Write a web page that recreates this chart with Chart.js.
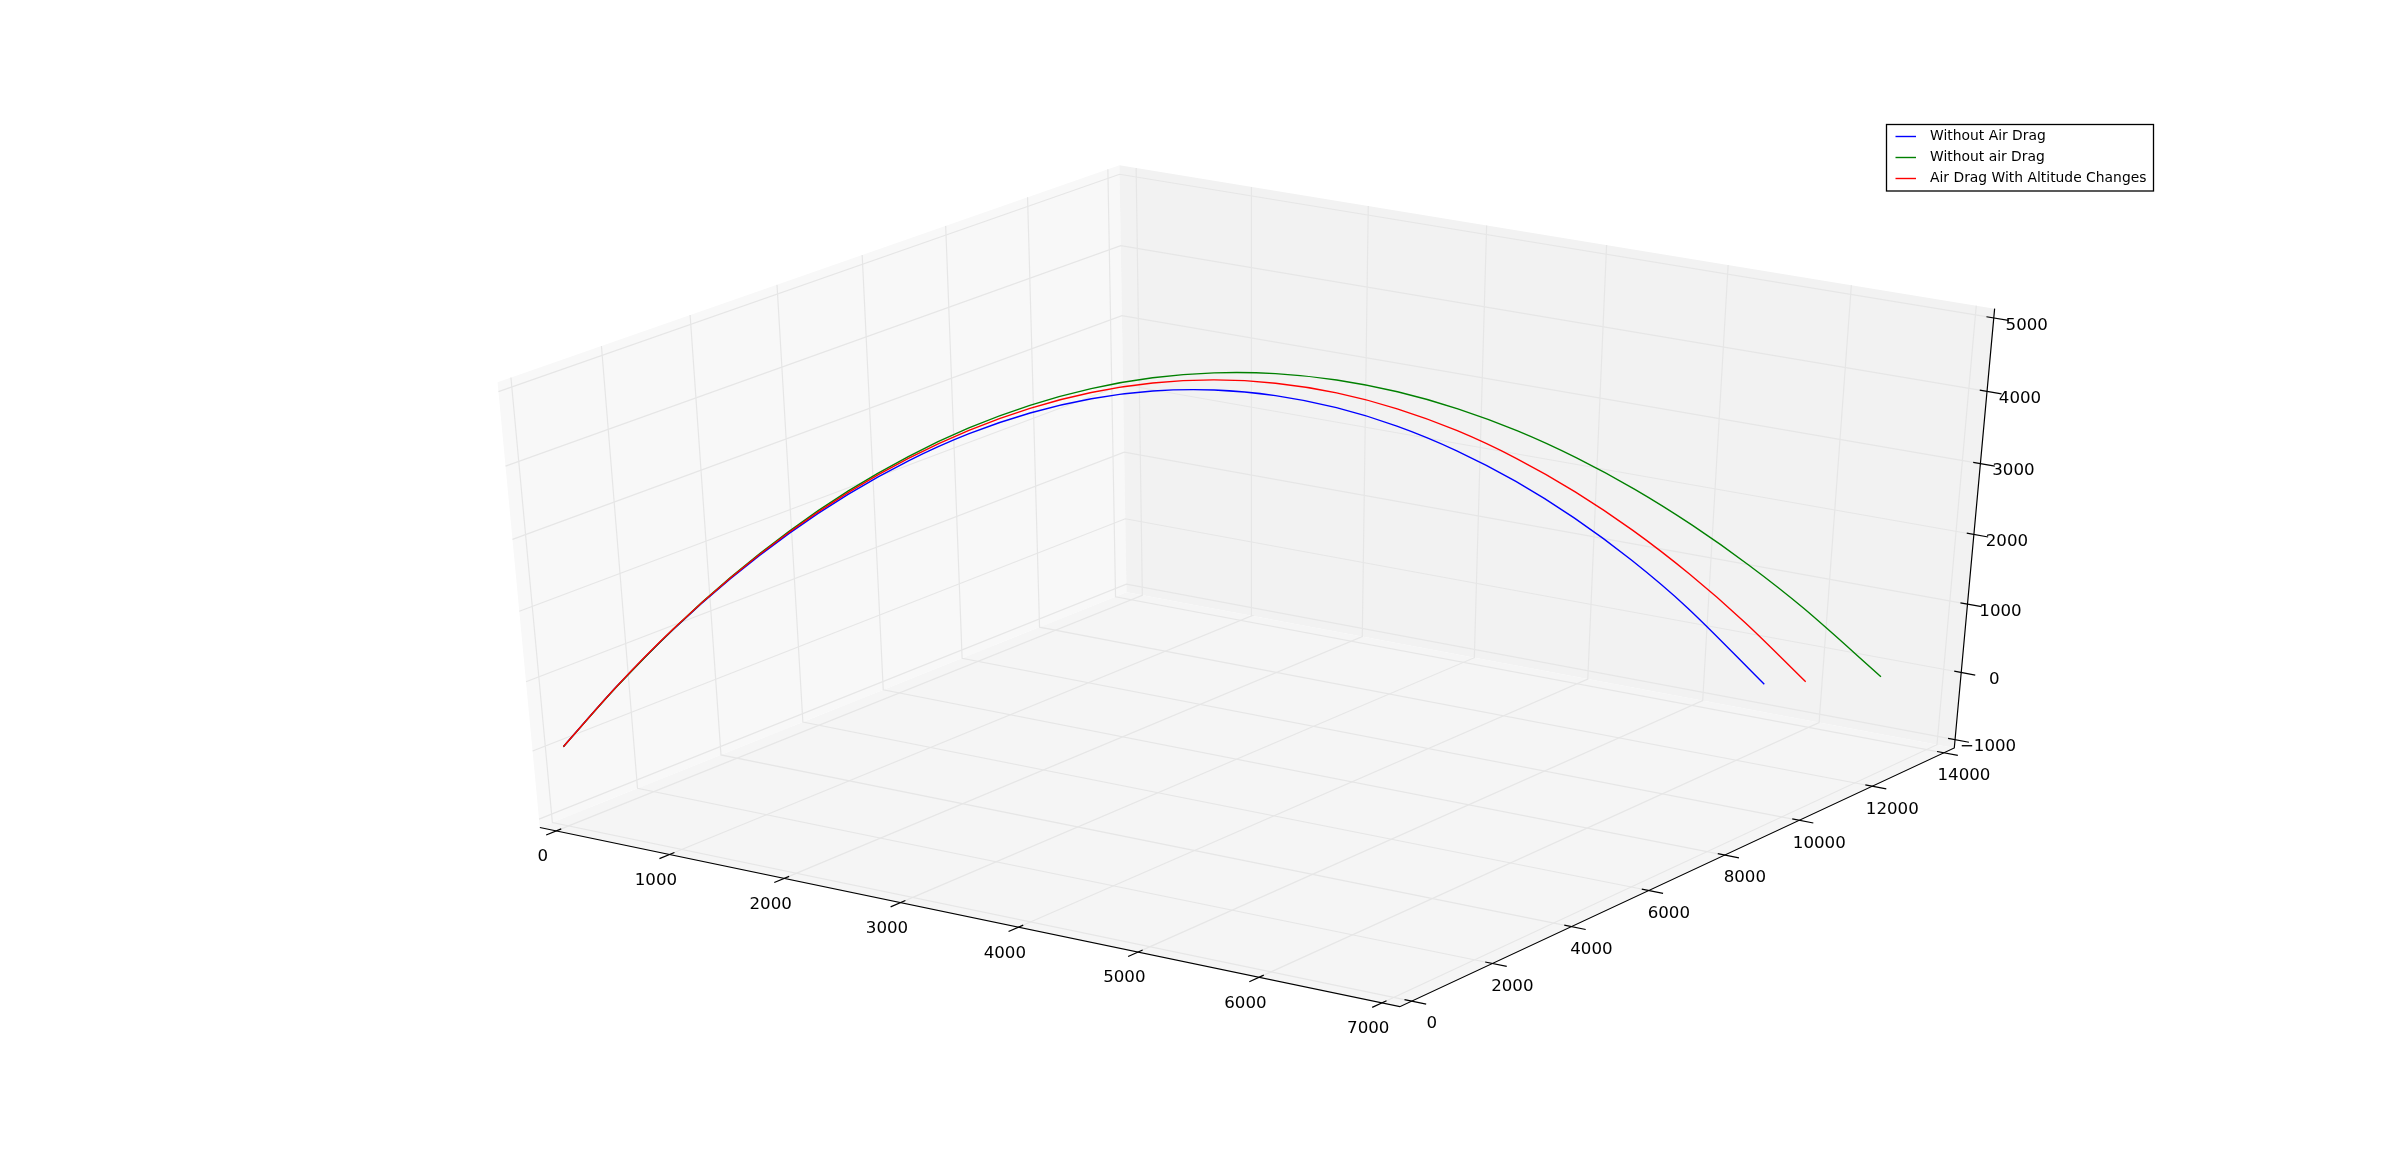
<!DOCTYPE html>
<html>
<head>
<meta charset="utf-8">
<title>Trajectory</title>
<script src="https://cdn.jsdelivr.net/npm/chart.js@4/dist/chart.umd.js"></script>
<style>
    body { margin: 0; background: #fff; }
    canvas { display: block; }
</style>
</head>
<body>
<canvas id="trajectory" width="2400" height="1170"></canvas>
<script>
// tick labels
const xTicks = [0, 1000, 2000, 3000, 4000, 5000, 6000, 7000]
const yTicks = [0, 2000, 4000, 6000, 8000, 10000, 12000, 14000]
const zTicks = [-1000, 0, 1000, 2000, 3000, 4000, 5000]

// series values
const blueX = [9, 300, 600, 900, 1200, 1500, 1800, 2100, 2400, 2700, 3000, 3300, 3600, 3900, 4200, 4500, 4800, 5100, 5400, 5700, 6121]
const blueY = [18, 600, 1200, 1800, 2400, 3000, 3600, 4200, 4800, 5400, 6000, 6600, 7200, 7800, 8400, 9000, 9600, 10200, 10800, 11400, 12242]
const blueZ = [39, 865, 1630, 2302, 2886, 3384, 3796, 4123, 4362, 4513, 4575, 4548, 4431, 4226, 3933, 3552, 3086, 2533, 1893, 1162, -15]

const greenX = [9, 300, 600, 900, 1200, 1500, 1800, 2100, 2400, 2700, 3000, 3300, 3600, 3900, 4200, 4500, 4800, 5100, 5400, 5700, 6000, 6300, 6727]
const greenY = [18, 600, 1200, 1800, 2400, 3000, 3600, 4200, 4800, 5400, 6000, 6600, 7200, 7800, 8400, 9000, 9600, 10200, 10800, 11400, 12000, 12600, 13454]
const greenZ = [39, 862, 1634, 2317, 2914, 3427, 3855, 4201, 4465, 4649, 4753, 4779, 4728, 4601, 4400, 4127, 3783, 3369, 2889, 2343, 1734, 1063, 3]

const redX = [9, 300, 600, 900, 1200, 1500, 1800, 2100, 2400, 2700, 3000, 3300, 3600, 3900, 4200, 4500, 4800, 5100, 5400, 5700, 6000, 6336]
const redY = [18, 600, 1200, 1800, 2400, 3000, 3600, 4200, 4800, 5400, 6000, 6600, 7200, 7800, 8400, 9000, 9600, 10200, 10800, 11400, 12000, 12672]
const redZ = [39, 867, 1635, 2312, 2901, 3407, 3830, 4169, 4425, 4597, 4683, 4684, 4598, 4426, 4169, 3828, 3403, 2898, 2313, 1649, 908, -10]

const seriesNames = ['Without Air Drag', 'Without air Drag', 'Air Drag With Altitude Changes']
const seriesColours = ['#0000ff', '#008000', '#ff0000']

const xMin = xTicks[0], xMax = xTicks[xTicks.length - 1]
const yMin = yTicks[0], yMax = yTicks[yTicks.length - 1]
const zMin = zTicks[0], zMax = zTicks[zTicks.length - 1]

// panes stick out a little past the axis limits
const xLo = xMin - (xMax - xMin) / 48, xHi = xMax + (xMax - xMin) / 48
const yLo = yMin - (yMax - yMin) / 48, yHi = yMax + (yMax - yMin) / 48
const zLo = zMin - (zMax - zMin) / 48, zHi = zMax + (zMax - zMin) / 48

// camera
const azim = 55.9 * Math.PI / 180
const elev = 33 * Math.PI / 180
const dist = 10
const right = [Math.sin(azim), Math.cos(azim), 0]
const up = [-Math.sin(elev) * Math.cos(azim), Math.sin(elev) * Math.sin(azim), Math.cos(elev)]
const toEye = [Math.cos(elev) * Math.cos(azim), -Math.cos(elev) * Math.sin(azim), Math.sin(elev)]

function dot(a, b) {
    return a[0] * b[0] + a[1] * b[1] + a[2] * b[2]
}

// 3d value -> page position, same scheme as mplot3d
function project(x, y, z) {
    const d = [(x - xMin) / (xMax - xMin) - 0.5, (y - yMin) / (yMax - yMin) - 0.5, (z - zMin) / (zMax - zMin) - 0.5]
    const w = dist - dot(toEye, d)
    return { x: 1255.1 + 10054 * dot(right, d) / w, y: 572.4 - 5059 * dot(up, d) / w }
}

// several polylines in one dataset, split by empty points
function polylines(lines) {
    const pts = []
    lines.forEach((line) => {
        line.forEach((p) => pts.push(project(p[0], p[1], p[2])))
        pts.push({ x: null, y: null })
    })
    return pts
}

function pane(corners, colour) {
    return {
        data: polylines([corners]).slice(0, -1),
        backgroundColor: colour,
        borderWidth: 0,
        fill: 'shape'
    }
}

function lines(segs, colour, width) {
    return { data: polylines(segs), borderColor: colour, borderWidth: width, fill: false }
}

function series(xs, ys, zs, i) {
    return {
        label: seriesNames[i],
        data: xs.map((x, k) => project(x, ys[k], zs[k])),
        borderColor: seriesColours[i],
        borderWidth: 1.4,
        tension: 0.33,
        fill: false
    }
}

const gridColour = '#e6e6e6'
const tickOut = 1 / 60, tickIn = 1 / 120
const xSpan = xMax - xMin, ySpan = yMax - yMin

const datasets = [
    pane([[xLo, yLo, zLo], [xLo, yHi, zLo], [xLo, yHi, zHi], [xLo, yLo, zHi]], '#f8f8f8'),
    pane([[xLo, yHi, zLo], [xHi, yHi, zLo], [xHi, yHi, zHi], [xLo, yHi, zHi]], '#f2f2f2'),
    pane([[xLo, yLo, zLo], [xHi, yLo, zLo], [xHi, yHi, zLo], [xLo, yHi, zLo]], '#f5f5f5'),
    lines(xTicks.map((v) => [[v, yLo, zLo], [v, yHi, zLo], [v, yHi, zHi]]), gridColour, 1.2),
    lines(yTicks.map((v) => [[xHi, v, zLo], [xLo, v, zLo], [xLo, v, zHi]]), gridColour, 1.2),
    lines(zTicks.map((v) => [[xLo, yLo, v], [xLo, yHi, v], [xHi, yHi, v]]), gridColour, 1.2),
    lines([[[xLo, yLo, zLo], [xHi, yLo, zLo], [xHi, yHi, zLo], [xHi, yHi, zHi]]], '#000', 1.2),
    lines(xTicks.map((v) => [[v, yLo - tickOut * ySpan, zLo], [v, yLo + tickIn * ySpan, zLo]]), '#000', 1.2),
    lines(yTicks.map((v) => [[xHi + tickOut * xSpan, v, zLo], [xHi - tickIn * xSpan, v, zLo]]), '#000', 1.2),
    lines(zTicks.map((v) => [[xHi + tickOut * xSpan, yHi, v], [xHi - tickIn * xSpan, yHi, v]]), '#000', 1.2),
    series(blueX, blueY, blueZ, 0),
    series(greenX, greenY, greenZ, 1),
    series(redX, redY, redZ, 2)
]

// later datasets go on top
datasets.forEach((d, i) => {
    d.order = -i
    d.showLine = true
    d.pointRadius = 0
    d.clip = false
})

function tickLabel(v) {
    return v < 0 ? '\u2212' + Math.abs(v) : String(v)
}

const axisText = {
    id: 'axisText',
    afterDatasetsDraw(chart) {
        const ctx = chart.ctx
        ctx.save()
        ctx.fillStyle = '#000'
        ctx.font = '16.67px "DejaVu Sans"'
        ctx.textAlign = 'center'
        ctx.textBaseline = 'middle'
        xTicks.forEach((v) => {
            const p = project(v, yLo, zLo)
            ctx.fillText(tickLabel(v), p.x - 13.5, p.y + 26)
        })
        yTicks.forEach((v) => {
            const p = project(xHi, v, zLo)
            ctx.fillText(tickLabel(v), p.x + 20, p.y + 23)
        })
        zTicks.forEach((v) => {
            const p = project(xHi, yHi, v)
            ctx.fillText(tickLabel(v), p.x + 33, p.y + 7.5)
        })
        ctx.restore()
    }
}

const legendBox = {
    id: 'legendBox',
    afterDraw(chart) {
        const ctx = chart.ctx
        ctx.save()
        ctx.fillStyle = '#fff'
        ctx.strokeStyle = '#000'
        ctx.lineWidth = 1.3
        ctx.fillRect(1886.5, 124.5, 267, 66.5)
        ctx.strokeRect(1886.5, 124.5, 267, 66.5)
        ctx.font = '13.89px "DejaVu Sans"'
        ctx.textBaseline = 'middle'
        ctx.textAlign = 'left'
        seriesNames.forEach((name, i) => {
            const y = 136.5 + i * 21
            ctx.strokeStyle = seriesColours[i]
            ctx.lineWidth = 1.4
            ctx.beginPath()
            ctx.moveTo(1895.5, y)
            ctx.lineTo(1916, y)
            ctx.stroke()
            ctx.fillStyle = '#000'
            ctx.fillText(name, 1930, y)
        })
        ctx.restore()
    }
}

const config = {
    type: 'scatter',
    data: { datasets: datasets },
    options: {
        responsive: false,
        animation: false,
        layout: { padding: 0 },
        plugins: {
            legend: { display: false },
            tooltip: { enabled: false }
        },
        scales: {
            x: { type: 'linear', display: false, min: 0, max: 2400 },
            y: { type: 'linear', display: false, min: 0, max: 1170, reverse: true }
        }
    },
    plugins: [axisText, legendBox]
}

new Chart(document.getElementById('trajectory'), config)
</script>
</body>
</html>
